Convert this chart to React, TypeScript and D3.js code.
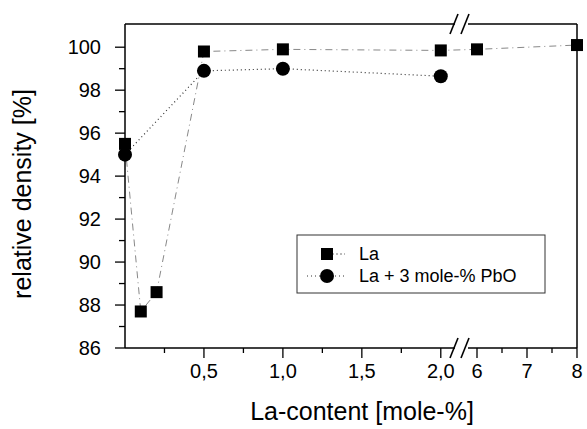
import React, { useRef, useEffect } from 'react'
import * as d3 from 'd3'

// La-Gehalt [mole-%]
const laX = [0, 0.1, 0.2, 0.5, 1.0, 2.0, 6.0, 8.0]
const laY = [95.5, 87.7, 88.6, 99.8, 99.9, 99.85, 99.9, 100.1]
const pboX = [0, 0.5, 1.0, 2.0]
const pboY = [95.0, 98.9, 99.0, 98.65]

const yTicks = [86, 88, 90, 92, 94, 96, 98, 100]
const yMinorTicks = [87, 89, 91, 93, 95, 97, 99]
const xLeftTicks = [0.5, 1.0, 1.5, 2.0]
const xLeftMinor = [0.25, 0.75, 1.25, 1.75]
const xRightTicks = [6, 7, 8]
const xRightMinor = [6.5, 7.5]
const legendLabels = ['La', 'La + 3 mole-% PbO']

const W = 587
const H = 429
const FONT = '"Liberation Sans", Arial, sans-serif'

export default function App() {
    const svgRef = useRef<SVGSVGElement>(null)

    useEffect(() => {
        if (!svgRef.current) return
        const svg = d3.select(svgRef.current)
        svg.selectAll('*').remove()

        const left = 125
        const right = 577
        const top = 24
        const bottom = 348
        const gapL = 455
        const gapR = 468

        // gebrochene x-Achse: zwei Skalen
        const xL = d3.scaleLinear().domain([0, 2.09]).range([left, gapL])
        const xR = d3.scaleLinear().domain([5.82, 8]).range([gapR, right])
        const xPos = (v: number) => (v <= 3 ? xL(v) : xR(v))
        const y = d3.scaleLinear().domain([86, 101.08]).range([bottom, top])

        const axisStroke = '#000'

        // Rahmen mit Lücke
        const frame = svg.append('g').attr('stroke', axisStroke).attr('stroke-width', 1.5).attr('fill', 'none')
        frame.append('line').attr('x1', left).attr('x2', gapL).attr('y1', top).attr('y2', top)
        frame.append('line').attr('x1', gapR).attr('x2', right).attr('y1', top).attr('y2', top)
        frame.append('line').attr('x1', left).attr('x2', gapL).attr('y1', bottom).attr('y2', bottom)
        frame.append('line').attr('x1', gapR).attr('x2', right).attr('y1', bottom).attr('y2', bottom)
        frame.append('line').attr('x1', left).attr('x2', left).attr('y1', top).attr('y2', bottom)
        frame.append('line').attr('x1', right).attr('x2', right).attr('y1', top).attr('y2', bottom)

        // Bruchzeichen //
        ;[top, bottom].forEach((yy) => {
            ;[gapL - 1, gapR - 3].forEach((xx) => {
                svg.append('line')
                    .attr('x1', xx - 4).attr('y1', yy + 10)
                    .attr('x2', xx + 4).attr('y2', yy - 10)
                    .attr('stroke', '#000').attr('stroke-width', 1.6)
            })
        })

        // y-Achse
        const ticks = svg.append('g').attr('stroke', axisStroke).attr('stroke-width', 1.3)
        yTicks.forEach((t) => {
            ticks.append('line').attr('x1', left - 10).attr('x2', left).attr('y1', y(t)).attr('y2', y(t))
        })
        yMinorTicks.forEach((t) => {
            ticks.append('line').attr('x1', left - 6).attr('x2', left).attr('y1', y(t)).attr('y2', y(t))
        })
        svg.append('g')
            .selectAll('text')
            .data(yTicks)
            .enter()
            .append('text')
            .attr('x', 101)
            .attr('y', (d) => y(d))
            .attr('dy', '0.36em')
            .attr('text-anchor', 'end')
            .style('font-family', FONT)
            .style('font-size', '20px')
            .text((d) => d)

        // x-Achse
        xLeftTicks.forEach((t) => {
            ticks.append('line').attr('x1', xL(t)).attr('x2', xL(t)).attr('y1', bottom).attr('y2', bottom + 10)
        })
        xLeftMinor.forEach((t) => {
            ticks.append('line').attr('x1', xL(t)).attr('x2', xL(t)).attr('y1', bottom).attr('y2', bottom + 5)
        })
        xRightTicks.forEach((t) => {
            ticks.append('line').attr('x1', xR(t)).attr('x2', xR(t)).attr('y1', bottom).attr('y2', bottom + 10)
        })
        xRightMinor.forEach((t) => {
            ticks.append('line').attr('x1', xR(t)).attr('x2', xR(t)).attr('y1', bottom).attr('y2', bottom + 5)
        })
        const xLabels = [
            ...xLeftTicks.map((t) => ({ x: xL(t), s: t.toFixed(1).replace('.', ',') })),
            ...xRightTicks.map((t) => ({ x: xR(t), s: String(t) })),
        ]
        svg.append('g')
            .selectAll('text')
            .data(xLabels)
            .enter()
            .append('text')
            .attr('x', (d) => d.x)
            .attr('y', 378)
            .attr('text-anchor', 'middle')
            .style('font-family', FONT)
            .style('font-size', '20px')
            .text((d) => d.s)

        // Achsentitel
        svg.append('text')
            .attr('x', 362)
            .attr('y', 420)
            .attr('text-anchor', 'middle')
            .style('font-family', FONT)
            .style('font-size', '25px')
            .text('La-content [mole-%]')
        svg.append('text')
            .attr('transform', 'translate(31,194) rotate(-90)')
            .attr('text-anchor', 'middle')
            .style('font-family', FONT)
            .style('font-size', '25px')
            .text('relative density [%]')

        // Linien
        const laData = laX.map((x, i) => [xPos(x), y(laY[i])] as [number, number])
        const pboData = pboX.map((x, i) => [xPos(x), y(pboY[i])] as [number, number])
        const line = d3.line()
        svg.append('path')
            .attr('d', line(laData))
            .attr('fill', 'none')
            .attr('stroke', '#888')
            .attr('stroke-width', 1)
            .attr('stroke-dasharray', '7,4,1,4')
        svg.append('path')
            .attr('d', line(pboData))
            .attr('fill', 'none')
            .attr('stroke', '#333')
            .attr('stroke-width', 1.2)
            .attr('stroke-dasharray', '1,3')

        // Marker
        const sq = 12
        svg.append('g')
            .selectAll('rect')
            .data(laData)
            .enter()
            .append('rect')
            .attr('x', (d) => d[0] - sq / 2)
            .attr('y', (d) => d[1] - sq / 2)
            .attr('width', sq)
            .attr('height', sq)
            .attr('fill', '#000')
        svg.append('g')
            .selectAll('circle')
            .data(pboData)
            .enter()
            .append('circle')
            .attr('cx', (d) => d[0])
            .attr('cy', (d) => d[1])
            .attr('r', 7)
            .attr('fill', '#000')

        // Legende
        const lg = svg.append('g')
        lg.append('rect')
            .attr('x', 297)
            .attr('y', 235)
            .attr('width', 248)
            .attr('height', 58)
            .attr('fill', '#fff')
            .attr('stroke', '#333')
            .attr('stroke-width', 1)
        const rowY = [254, 276]
        lg.append('line').attr('x1', 332).attr('x2', 345).attr('y1', rowY[0]).attr('y2', rowY[0])
            .attr('stroke', '#777').attr('stroke-dasharray', '2,2')
        lg.append('rect').attr('x', 321).attr('y', rowY[0] - 6).attr('width', 12).attr('height', 12).attr('fill', '#000')
        lg.append('line').attr('x1', 307).attr('x2', 347).attr('y1', rowY[1]).attr('y2', rowY[1])
            .attr('stroke', '#333').attr('stroke-dasharray', '1,3')
        lg.append('circle').attr('cx', 327).attr('cy', rowY[1]).attr('r', 7).attr('fill', '#000')
        legendLabels.forEach((s, i) => {
            lg.append('text')
                .attr('x', 359)
                .attr('y', rowY[i])
                .attr('dy', '0.36em')
                .style('font-family', FONT)
                .style('font-size', '18px')
                .text(s)
        })
    }, [])

    return (
        <div style={{ position: 'absolute', left: 0, top: 0, width: W, height: H, background: '#fff' }}>
            <svg ref={svgRef} width={W} height={H} />
        </div>
    )
}
